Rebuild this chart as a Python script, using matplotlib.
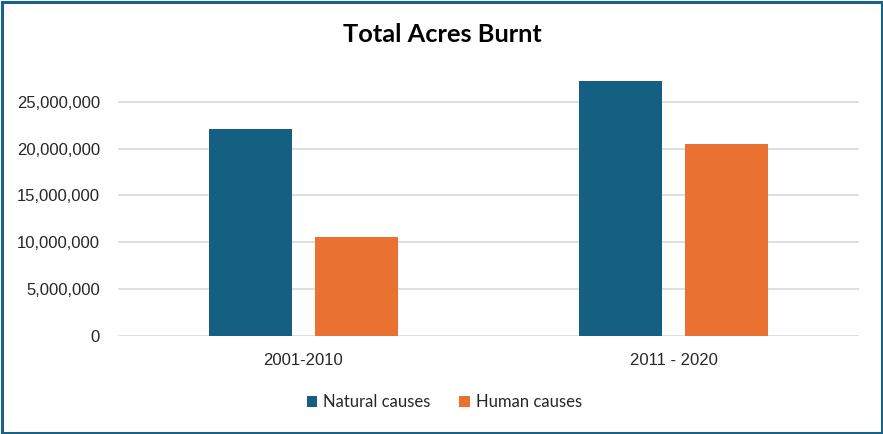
import matplotlib
matplotlib.use("Agg")
import matplotlib.pyplot as plt
from matplotlib.patches import Rectangle
from matplotlib.ticker import FuncFormatter
import numpy as np

categories = ["2001-2010", "2011 - 2020"]
natural = [22100000, 27200000]
human = [10560000, 20490000]
series_names = ["Natural causes", "Human causes"]
colors = ["#156082", "#E97132"]
yticks = [0, 5000000, 10000000, 15000000, 20000000, 25000000]

plt.rcParams['font.family'] = ['Lato', 'DejaVu Sans']

fig = plt.figure(figsize=(8.83, 4.34), dpi=100)
ax = fig.add_axes([118/883, 1-336/434, (859-118)/883, (336-75)/434])

x = np.arange(len(categories))
w = 0.224
off = 0.143
ax.bar(x - off, natural, w, color=colors[0], label=series_names[0], zorder=3)
ax.bar(x + off, human, w, color=colors[1], label=series_names[1], zorder=3)

ax.set_xlim(-0.5, 1.5)
ax.set_ylim(0, 25000000 * (336-75) / 234.3)
ax.set_yticks(yticks)
ax.yaxis.set_major_formatter(FuncFormatter(lambda v, p: f"{int(v):,}"))
ax.set_xticks(x)
ax.set_xticklabels(categories)
ax.grid(axis='y', color='#d9d9d9', linewidth=1.2, zorder=0)
for s in ax.spines.values():
    s.set_visible(False)
ax.tick_params(axis='both', length=0, labelsize=12, colors='#262626',
               labelfontfamily='Liberation Sans')
ax.tick_params(axis='y', pad=13)
ax.tick_params(axis='x', pad=12)

fig.text(442/883, 1-35/434, "Total Acres Burnt", ha='center', va='center',
         fontsize=18.3, fontweight='bold', color='#000000')

leg = fig.legend(loc='center', bbox_to_anchor=(0.503, 1-402/434), ncol=2, frameon=False,
                 fontsize=12, handlelength=0.65, handleheight=0.65, handletextpad=0.35,
                 columnspacing=1.7)
for t in leg.get_texts():
    t.set_color('#262626')

fig.patches.append(Rectangle((1.5/883, 1.5/434), 1-3/883, 1-3/434, transform=fig.transFigure,
                             fill=False, edgecolor='#1a6186', linewidth=2.2))

fig.savefig("out.png", dpi=100)
